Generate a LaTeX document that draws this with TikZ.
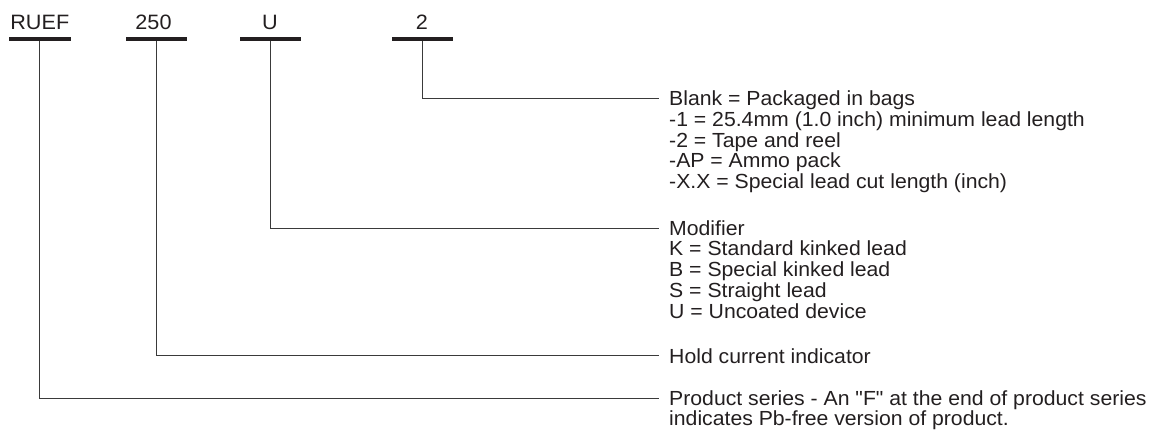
\documentclass[tikz,border=0pt]{standalone}
\usepackage{fontspec}
\newfontfamily\lsans[FakeStretch=1.04]{Liberation Sans}
\definecolor{ink}{HTML}{231F20}
\definecolor{wire}{HTML}{3A3A3A}
\begin{document}
\begin{tikzpicture}[x=1pt,y=-1pt,
  code/.style={font=\lsans\fontsize{20.8}{22}\selectfont, text=ink, inner sep=0pt, anchor=base},
  bar/.style={fill=ink, draw=none, minimum width=61.5pt, minimum height=3.3pt, inner sep=0pt},
  conn/.style={draw=wire, line width=1pt},
  desc/.style={font=\lsans\fontsize{20.4}{20.7}\selectfont, text=ink, align=left, inner sep=0pt, anchor=base west}]
\useasboundingbox (0,0) rectangle (1152,433);
% part code fields
\node[code] (tRUEF) at (39.8,29.3) {RUEF};
\node[code] (t250) at (153.5,29.3) {250};
\node[code] (tU) at (270,29.3) {U};
\node[code] (t2) at (422,29.3) {2};
\node[bar] (bRUEF) at (39.9,39) {};
\node[bar] (b250) at (156.4,39) {};
\node[bar] (bU) at (270.3,39) {};
\node[bar] (b2) at (422.5,39) {};
% line ends
\coordinate (e2) at (659,98.3);
\coordinate (eU) at (659,228.7);
\coordinate (e250) at (659,355.7);
\coordinate (eRUEF) at (659,398.7);
% descriptions (anchored at the baseline of their last line)
\node[desc] (d2) at (669,188.5) {Blank = Packaged in bags\\-1 = 25.4mm (1.0 inch) minimum lead length\\-2 = Tape and reel\\-AP = Ammo pack\\-X.X = Special lead cut length (inch)};
\node[desc] (dU) at (669,318) {Modifier\\K = Standard kinked lead\\B = Special kinked lead\\S = Straight lead\\U = Uncoated device};
\node[desc] (d250) at (669,363) {Hold current indicator};
\node[desc] (dRUEF) at (669,425.8) {Product series - An "F" at the end of product series\\indicates Pb-free version of product.};
% connectors
\draw[conn] (b2.south) |- (e2);
\draw[conn] (bU.south) |- (eU);
\draw[conn] (b250.south) |- (e250);
\draw[conn] (bRUEF.south) |- (eRUEF);
\end{tikzpicture}
\end{document}
